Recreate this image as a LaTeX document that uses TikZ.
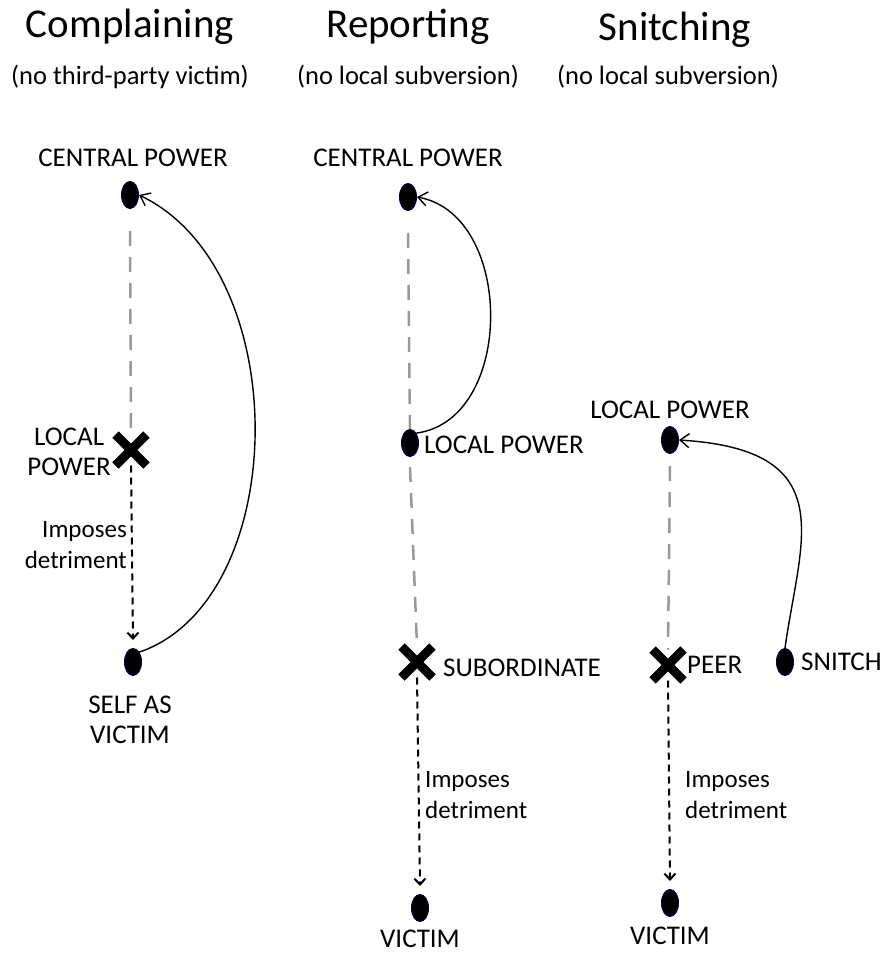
\documentclass[tikz,border=0pt]{standalone}
\usepackage{fontspec}
\setmainfont{Carlito}
\usetikzlibrary{arrows.meta,shapes.misc,shapes.geometric}

\begin{document}
\begin{tikzpicture}[x=1pt, y=-1pt,
    title/.style={font=\fontsize{41}{44}\selectfont},
    subtitle/.style={font=\fontsize{26.5}{30}\selectfont},
    label/.style={font=\fontsize{27}{30}\selectfont, inner sep=1pt, align=center},
    note/.style={font=\fontsize{25}{31}\selectfont, inner sep=1pt},
    dot/.style={ellipse, draw=blue!30!black, line width=1pt, fill=black, minimum width=17pt, minimum height=27pt, inner sep=0pt},
    cross/.style={cross out, draw=black, line width=9pt, minimum size=22pt, inner sep=0pt},
    power/.style={gray!80, line width=2.5pt, dash pattern=on 15pt off 11pt},
    harm/.style={-{Straight Barb[length=6pt,width=11pt]}, line width=2pt, dash pattern=on 7pt off 5pt},
    appeal/.style={-{Straight Barb[length=9pt,width=14pt]}, line width=1.4pt},
]
\useasboundingbox (0,0) rectangle (896,955);

% Complaining
\node[title] (t1) at (130,27) {Complaining};
\node[subtitle] (s1) at (130,77) {(no third-party victim)};
\node[label] (l1a) at (133,158) {CENTRAL POWER};
\node[dot] (cp1) at (130,195) {};
\node[cross] (lp1) at (131,450) {};
\node[label, anchor=east] (l1b) at (112,452) {LOCAL\\POWER};
\node[dot] (sv1) at (133,662) {};
\node[label] (l1c) at (130,720) {SELF AS\\VICTIM};
\node[note, anchor=east, align=right] (n1) at (128,545) {Imposes\\detriment};
\draw[power] (cp1.south) ++(0,22) -- (lp1.north);
\draw[harm] (lp1.south) -- ([yshift=8pt]sv1.north);
\draw[appeal] (sv1.north east) .. controls (291,600) and (296,270) .. (cp1.east);

% Reporting
\node[title] (t2) at (408,27) {Reporting};
\node[subtitle] (s2) at (408,77) {(no local subversion)};
\node[label] (l2a) at (408,158) {CENTRAL POWER};
\node[dot] (cp2) at (408,197) {};
\node[dot] (lp2) at (410,443) {};
\node[label, anchor=west] (l2b) at (423,445) {LOCAL POWER};
\node[cross] (sb2) at (417,662) {};
\node[label, anchor=west] (l2c) at (442,668) {SUBORDINATE};
\node[dot] (vc2) at (420,908) {};
\node[label] (l2d) at (420,939) {VICTIM};
\node[note, anchor=west, align=left] (n2) at (424,795) {Imposes\\detriment};
\draw[power] (cp2.south) ++(0,22) -- (lp2.north);
\draw[power] (lp2.south) ++(0,10) -- (sb2.north);
\draw[harm] (sb2.south) -- ([yshift=8pt]vc2.north);
\draw[appeal] (lp2.north east) .. controls (515,420) and (515,215) .. (cp2.east);

% Snitching
\node[title] (t3) at (675,30) {Snitching};
\node[subtitle] (s3) at (668,77) {(no local subversion)};
\node[label] (l3a) at (670,410) {LOCAL POWER};
\node[dot] (lp3) at (670,440) {};
\node[cross] (pe3) at (668,665) {};
\node[label, anchor=west] (l3b) at (686,665) {PEER};
\node[dot] (sn3) at (785,662) {};
\node[label, anchor=west] (l3c) at (800,662) {SNITCH};
\node[dot] (vc3) at (670,903) {};
\node[label] (l3d) at (670,936) {VICTIM};
\node[note, anchor=west, align=left] (n3) at (684,795) {Imposes\\detriment};
\draw[power] (lp3.south) ++(0,12) -- (pe3.north);
\draw[harm] (pe3.south) -- ([yshift=8pt]vc3.north);
\draw[appeal] (sn3.north) .. controls (800,540) and (843,450) .. (lp3.east);
\end{tikzpicture}
\end{document}
